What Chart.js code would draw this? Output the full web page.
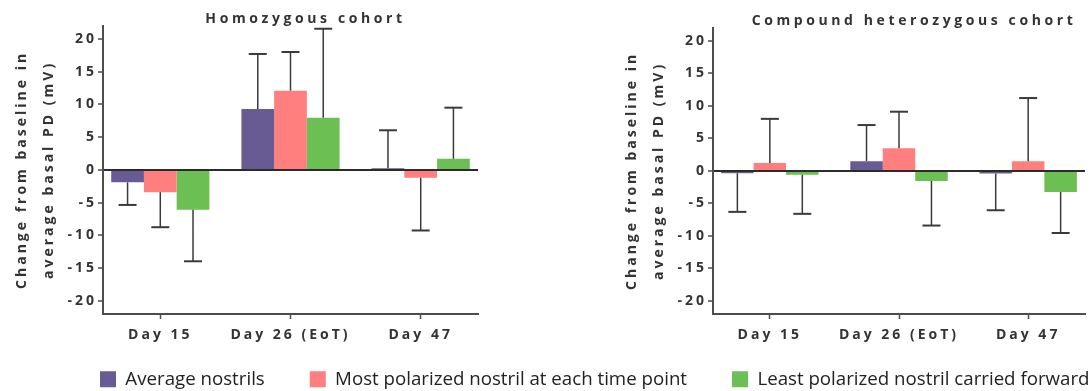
<!DOCTYPE html>
<html lang="en">
<head>
    <meta charset="UTF-8">
    <title>Change in basal PD by cohort</title>
    <style>
        html, body {
            margin: 0;
            padding: 0;
            background: #fff;
        }
        #wrap {
            position: relative;
            width: 1092px;
            height: 391px;
            overflow: hidden;
        }
        canvas {
            position: absolute;
        }
        #homChart { left: 0; top: 0; }
        #hetChart { left: 610px; top: 0; }
        #legendChart { left: 55px; top: 325px; }
    </style>
    <script src="https://cdn.jsdelivr.net/npm/chart.js"></script>
</head>
<body>
    <div id="wrap">
        <canvas id="homChart" width="546" height="344"></canvas>
        <canvas id="hetChart" width="482" height="344"></canvas>
        <canvas id="legendChart" width="1100" height="160"></canvas>
    </div>

    <script>
        const categories = ['Day 15', 'Day 26 (EoT)', 'Day 47'];
        const seriesNames = ['Average nostrils', 'Most polarized nostril at each time point', 'Least polarized nostril carried forward'];
        const seriesColors = ['#685a93', '#ff7f7f', '#6cbf52'];
        const yTitle = ['Change from baseline in', 'average basal PD (mV)'];

        // homozygous cohort: means and where the error bar ends
        const homAvg = [-1.9, 9.3, 0.25];
        const homMost = [-3.4, 12.1, -1.2];
        const homLeast = [-6.1, 7.95, 1.7];
        const homAvgErr = [-5.35, 17.7, 6.05];
        const homMostErr = [-8.75, 18.0, -9.25];
        const homLeastErr = [-13.95, 21.55, 9.5];

        // compound heterozygous cohort
        const hetAvg = [-0.35, 1.5, -0.4];
        const hetMost = [1.2, 3.5, 1.5];
        const hetLeast = [-0.6, -1.55, -3.25];
        const hetAvgErr = [-6.3, 7.05, -6.05];
        const hetMostErr = [8.0, 9.1, 11.2];
        const hetLeastErr = [-6.6, -8.4, -9.55];

        const textColor = '#333';
        const axisColor = '#4d4d4d';

        Chart.defaults.font.family = '"Open Sans", sans-serif';
        Chart.defaults.color = textColor;

        // spaced-out lettering, title nudged right, one-sided error bars
        const panelPlugin = {
            id: 'panel',
            beforeUpdate(chart) {
                chart.ctx.letterSpacing = '3px';
            },
            afterLayout(chart) {
                const t = chart.titleBlock;
                const a = chart.chartArea;
                t.left = a.left + 30;
                t.right = a.right;
                if (!t._spaced) {
                    const draw = t.draw;
                    t.draw = function () {
                        const c = this.ctx;
                        c.letterSpacing = '3.6px';
                        draw.apply(this, arguments);
                        c.letterSpacing = '3px';
                    };
                    t._spaced = true;
                }
            },
            beforeDraw(chart) {
                chart.ctx.letterSpacing = '3px';
            },
            afterDatasetsDraw(chart) {
                const ctx = chart.ctx;
                const y = chart.scales.y;
                ctx.save();
                ctx.strokeStyle = '#3a3a3a';
                chart.data.datasets.forEach((ds, i) => {
                    const meta = chart.getDatasetMeta(i);
                    meta.data.forEach((bar, j) => {
                        const end = y.getPixelForValue(ds.errEnd[j]);
                        ctx.lineWidth = 1.5;
                        ctx.beginPath();
                        ctx.moveTo(bar.x, bar.y);
                        ctx.lineTo(bar.x, end);
                        ctx.stroke();
                        ctx.lineWidth = 2;
                        ctx.beginPath();
                        ctx.moveTo(bar.x - 9, end);
                        ctx.lineTo(bar.x + 9, end);
                        ctx.stroke();
                    });
                });
                ctx.restore();
            }
        };

        function makeDatasets(values, errs) {
            return values.map((vals, i) => ({
                label: seriesNames[i],
                data: vals.map((v, j) => ({ x: j, y: v })),
                errEnd: errs[i],
                backgroundColor: seriesColors[i],
                borderColor: seriesColors[i],
                borderWidth: 0,
                categoryPercentage: 0.754,
                barPercentage: 1
            }));
        }

        function makePanel(id, title, values, errs, titleTop, padRight) {
            return new Chart(document.getElementById(id), {
                type: 'bar',
                data: { datasets: makeDatasets(values, errs) },
                options: {
                    responsive: false,
                    animation: false,
                    layout: { padding: { left: 0, right: padRight, top: 0, bottom: 0 } },
                    plugins: {
                        legend: { display: false },
                        tooltip: { enabled: false },
                        title: {
                            display: true,
                            text: title,
                            color: textColor,
                            font: { size: 14, weight: 'bold', lineHeight: 1.2 },
                            padding: { top: titleTop, bottom: -2 }
                        }
                    },
                    scales: {
                        x: {
                            type: 'linear',
                            min: -0.44,
                            max: 2.44,
                            offset: false,
                            afterBuildTicks: (scale) => {
                                scale.ticks = categories.map((c, i) => ({ value: i }));
                            },
                            afterFit: (scale) => { scale.height = 30; },
                            ticks: {
                                callback: (v) => categories[v],
                                color: textColor,
                                font: { size: 14, weight: 'bold' },
                                padding: 8,
                                maxRotation: 0,
                                autoSkip: false
                            },
                            grid: {
                                offset: false,
                                drawOnChartArea: false,
                                tickLength: 5,
                                tickColor: axisColor,
                                tickWidth: 1.5
                            },
                            border: { color: axisColor, width: 2 }
                        },
                        y: {
                            min: -22,
                            max: 22,
                            z: 1,
                            afterFit: (scale) => { scale.width = 103; },
                            ticks: {
                                stepSize: 5,
                                includeBounds: false,
                                color: textColor,
                                font: { size: 14, weight: 'bold' },
                                padding: 1
                            },
                            grid: {
                                color: (c) => (c.tick && c.tick.value === 0 ? '#2b2b2b' : 'rgba(0,0,0,0)'),
                                lineWidth: 2,
                                tickLength: 5,
                                tickColor: axisColor,
                                tickWidth: 1.5
                            },
                            border: { color: axisColor, width: 2 },
                            title: {
                                display: true,
                                text: yTitle,
                                color: textColor,
                                font: { size: 14, weight: 'bold', lineHeight: 1.9 },
                                padding: { top: 9, bottom: 0 }
                            }
                        }
                    }
                },
                plugins: [panelPlugin]
            });
        }

        makePanel('homChart', 'Homozygous cohort',
            [homAvg, homMost, homLeast], [homAvgErr, homMostErr, homLeastErr], 11, 68);
        makePanel('hetChart', 'Compound heterozygous cohort',
            [hetAvg, hetMost, hetLeast], [hetAvgErr, hetMostErr, hetLeastErr], 13, 7);

        // shared legend under both panels
        new Chart(document.getElementById('legendChart'), {
            type: 'bar',
            data: {
                labels: ['a'],
                datasets: seriesNames.map((name, i) => ({
                    label: name,
                    data: [0],
                    backgroundColor: seriesColors[i],
                    borderColor: seriesColors[i],
                    borderWidth: 0
                }))
            },
            options: {
                responsive: false,
                animation: false,
                layout: { padding: 0 },
                scales: { x: { display: false }, y: { display: false } },
                plugins: {
                    tooltip: { enabled: false },
                    legend: {
                        position: 'top',
                        align: 'start',
                        maxHeight: 120,
                        labels: {
                            boxWidth: 16,
                            boxHeight: 16,
                            padding: 45,
                            color: '#222',
                            font: { size: 18.7 }
                        }
                    }
                }
            }
        });
    </script>
</body>
</html>
